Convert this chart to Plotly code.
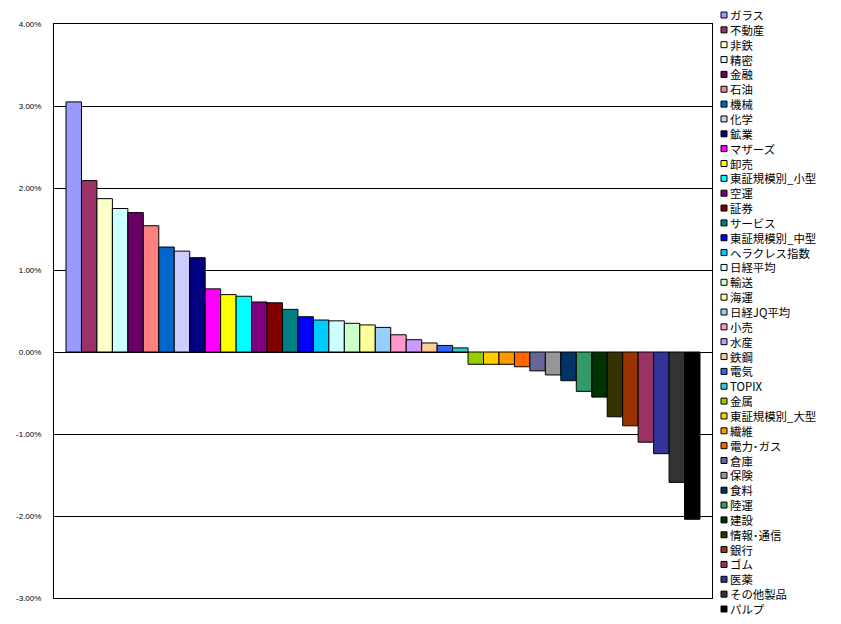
import plotly.graph_objects as go

names = ["ガラス", "不動産", "非鉄", "精密", "金融", "石油", "機械", "化学", "鉱業", "マザーズ",
         "卸売", "東証規模別_小型", "空運", "証券", "サービス", "東証規模別_中型", "ヘラクレス指数",
         "日経平均", "輸送", "海運", "日経JQ平均", "小売", "水産", "鉄鋼", "電気", "TOPIX", "金属",
         "東証規模別_大型", "繊維", "電力･ガス", "倉庫", "保険", "食料", "陸運", "建設", "情報･通信",
         "銀行", "ゴム", "医薬", "その他製品", "パルプ"]

values = [3.05, 2.09, 1.87, 1.75, 1.70, 1.54, 1.28, 1.23, 1.15, 0.77,
          0.70, 0.68, 0.61, 0.60, 0.52, 0.43, 0.39, 0.38, 0.35, 0.33,
          0.30, 0.21, 0.15, 0.11, 0.08, 0.05, -0.15, -0.15, -0.15, -0.18,
          -0.23, -0.28, -0.35, -0.48, -0.55, -0.79, -0.90, -1.10, -1.24, -1.59, -2.04]

colors = ["#9999FF", "#993366", "#FFFFCC", "#CCFFFF", "#660066", "#FF8080", "#0066CC", "#CCCCFF",
          "#000080", "#FF00FF", "#FFFF00", "#00FFFF", "#800080", "#800000", "#008080", "#0000FF",
          "#00CCFF", "#CCFFFF", "#CCFFCC", "#FFFF99", "#99CCFF", "#FF99CC", "#CC99FF", "#FFCC99",
          "#3366FF", "#33CCCC", "#99CC00", "#FFCC00", "#FF9900", "#FF6600", "#666699", "#969696",
          "#003366", "#339966", "#003300", "#333300", "#993300", "#993366", "#333399", "#333333",
          "#000000"]

y_ticks = [-3, -2, -1, 0, 1, 2, 3, 4]
y_ticktext = ["-3.00%", "-2.00%", "-1.00%", "0.00%", "1.00%", "2.00%", "3.00%", "4.00%"]

# page body has an 8px margin: work in figure coordinates = screen - 8
OFF = 8
W, H = 841 - 2 * OFF, 624 - 2 * OFF
L, R, T, B = 54 - OFF, 712 - OFF, 24 - OFF, 598 - OFF

fig = go.Figure()
for n, v, c in zip(names, values, colors):
    fig.add_trace(go.Bar(x=["全体"], y=[v], name=n,
                         marker=dict(color=c, line=dict(color="black", width=1)),
                         showlegend=False))

STEP = 14.85
FIRST = 15 - OFF


def px_to_xp(px):
    return (px - L) / (R - L)


def py_to_yp(py):
    return (B - py) / (B - T)


shapes = []
for i, c in enumerate(colors):
    py = FIRST + STEP * i
    shapes.append(dict(type="rect", xref="paper", yref="paper",
                       x0=px_to_xp(721 - OFF), x1=px_to_xp(727 - OFF),
                       y0=py_to_yp(py + 3), y1=py_to_yp(py - 3),
                       fillcolor=c, line=dict(color="black", width=1)))

mid_py = FIRST + STEP * (len(names) - 1) / 2
annotations = [dict(xref="paper", yref="paper", x=px_to_xp(729 - OFF), y=py_to_yp(mid_py),
                    text="<br>".join(names), showarrow=False, xanchor="left", yanchor="middle",
                    align="left", borderpad=0,
                    font=dict(family="Noto Sans CJK JP", size=STEP / 1.3, color="black"))]

fig.update_layout(
    width=W, height=H,
    margin=dict(l=L, r=W - R, t=T, b=H - B, pad=0, autoexpand=False),
    paper_bgcolor="white", plot_bgcolor="white",
    barmode="group", bargap=0.0365, bargroupgap=0,
    shapes=shapes, annotations=annotations,
    showlegend=False,
    xaxis=dict(showticklabels=False, showgrid=False, showline=True, linecolor="black", linewidth=1,
               mirror=True, ticks="", zeroline=False, automargin=False),
    yaxis=dict(range=[-3, 4], tickvals=y_ticks, ticktext=y_ticktext, showgrid=True, gridcolor="black",
               gridwidth=1, zeroline=True, zerolinecolor="black", zerolinewidth=1,
               showline=True, linecolor="black", linewidth=1, mirror=True, ticks="",
               automargin=False, ticklabelstandoff=10,
               tickfont=dict(family="Liberation Sans", size=8, color="black")),
)

fig.write_html("out.html")
